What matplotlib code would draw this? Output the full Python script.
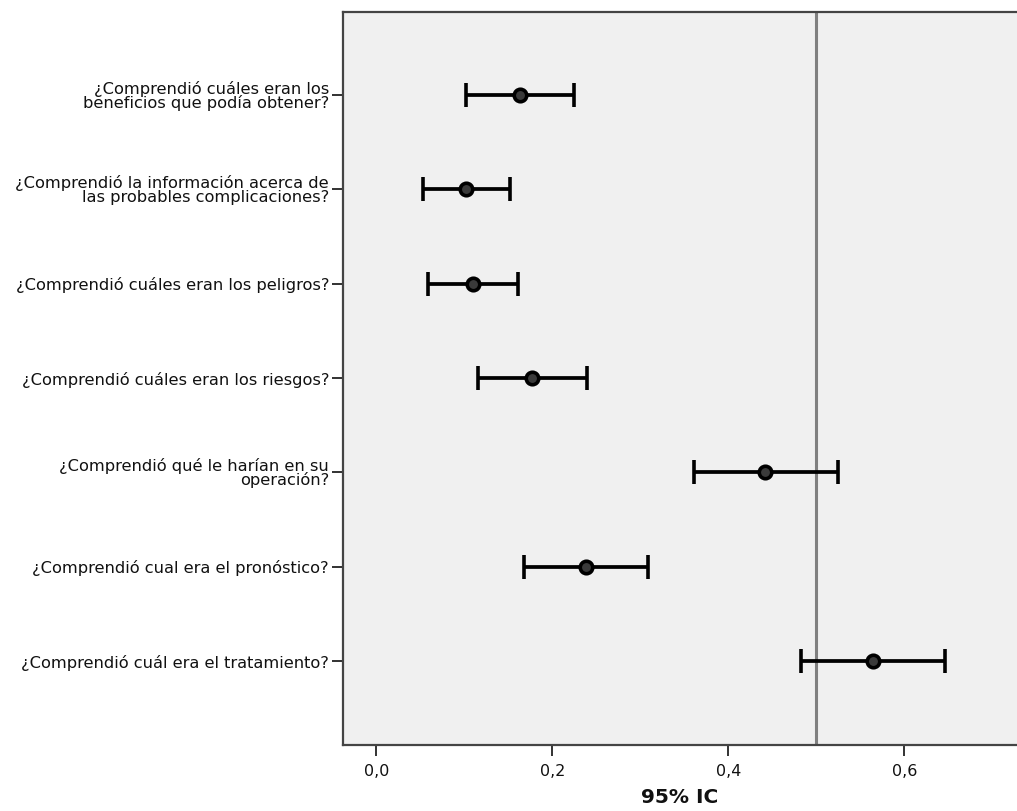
import matplotlib
matplotlib.use("Agg")
import matplotlib.pyplot as plt
from matplotlib.ticker import FuncFormatter

categories = [
    "¿Comprendió cuáles eran los\nbeneficios que podía obtener?",
    "¿Comprendió la información acerca de\nlas probables complicaciones?",
    "¿Comprendió cuáles eran los peligros?",
    "¿Comprendió cuáles eran los riesgos?",
    "¿Comprendió qué le harían en su\noperación?",
    "¿Comprendió cual era el pronóstico?",
    "¿Comprendió cuál era el tratamiento?",
]
means = [0.163, 0.102, 0.110, 0.177, 0.442, 0.238, 0.564]
lower = [0.102, 0.053, 0.059, 0.115, 0.361, 0.168, 0.483]
upper = [0.225, 0.152, 0.161, 0.239, 0.524, 0.309, 0.646]
ref_value = 0.5
x_ticks = [0.0, 0.2, 0.4, 0.6]
x_label = "95% IC"

plt.rcParams['font.family'] = ['DejaVu Sans']

fig = plt.figure(figsize=(10.17, 8.11), dpi=100)
ax = fig.add_axes([343 / 1017, 1 - 745 / 811, 1 - 343 / 1017, (745 - 12) / 811])
ax.set_facecolor('#F0F0F0')

ypos = list(range(len(categories)))
xerr = [[m - l for m, l in zip(means, lower)], [u - m for m, u in zip(means, upper)]]

ax.axvline(ref_value, color='#808080', linewidth=2.2, zorder=1)
ax.errorbar(means, ypos, xerr=xerr, fmt='o', color='black', ecolor='black',
            elinewidth=2.7, capsize=8.5, capthick=2.7, markersize=9,
            markerfacecolor='#3a3a3a', markeredgecolor='black', markeredgewidth=2.6,
            zorder=3)

ax.set_xlim(-0.038, 0.728)
ax.set_ylim(len(categories) - 1 + 0.89, -0.88)
ax.set_yticks(ypos)
ax.set_yticklabels(categories, fontsize=11.7, linespacing=0.88, color='#111111')
ax.set_xticks(x_ticks)
ax.xaxis.set_major_formatter(FuncFormatter(lambda v, p: f"{v:.1f}".replace('.', ',')))
ax.tick_params(axis='x', labelsize=11.5, length=8, width=1.3, color='#222222', pad=6,
               labelcolor='#111111')
ax.tick_params(axis='y', length=8, width=1.3, color='#222222', pad=2)
ax.set_xlabel(x_label, fontsize=14.5, fontweight='bold', labelpad=6, color='#111111')

for s in ['left', 'top', 'bottom']:
    ax.spines[s].set_color('#444444')
    ax.spines[s].set_linewidth(1.6)
ax.spines['right'].set_visible(False)

fig.savefig('out.png', dpi=100, facecolor='white')
